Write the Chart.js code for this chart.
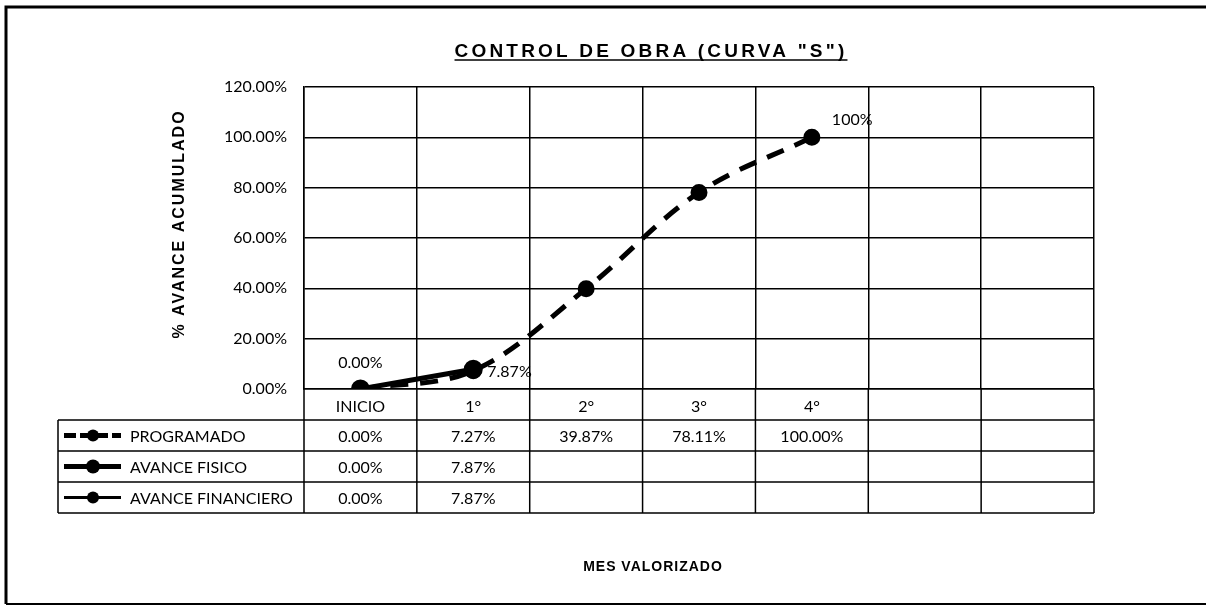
<!DOCTYPE html>
<html>
<head>
<meta charset="utf-8">
<script src="https://cdn.jsdelivr.net/npm/chart.js@4.4.1/dist/chart.umd.min.js"></script>
<style>
  html, body { margin: 0; padding: 0; background: #fff; }
  #wrap { width: 1206px; height: 606px; }
</style>
</head>
<body>
<div id="wrap"><canvas id="myChart" width="1206" height="606"></canvas></div>
<script>
'use strict';

// chart data
const months = ['INICIO', '1°', '2°', '3°', '4°', '', ''];
const programado = [0, 7.27, 39.87, 78.11, 100, null, null];
const avanceFisico = [0, 7.87, null, null, null, null, null];
const avanceFinanciero = [0, 7.87, null, null, null, null, null];
const yTicks = [0, 20, 40, 60, 80, 100, 120];

const chartTitle = 'CONTROL DE OBRA (CURVA "S")';
const yTitle = '% AVANCE ACUMULADO';
const xTitle = 'MES VALORIZADO';

const labelFont = '16px Lato';
const tableTop = 389;
const rowHeight = 31;
const tableLeft = 58;

function pct(v) {
    return v.toFixed(2) + '%';
}

// titles, frame, data table and point labels
const extras = {
    id: 'extras',
    afterDraw(chart) {
        const ctx = chart.ctx;
        const area = chart.chartArea;
        const xs = chart.scales.x;
        ctx.save();

        // outer frame
        ctx.strokeStyle = '#000';
        ctx.lineWidth = 3;
        ctx.beginPath();
        ctx.moveTo(1210, 7);
        ctx.lineTo(6, 7);
        ctx.lineTo(6, 604);
        ctx.stroke();
        ctx.lineWidth = 2;
        ctx.beginPath();
        ctx.moveTo(6, 604);
        ctx.lineTo(1210, 604);
        ctx.stroke();

        // main title, underlined
        ctx.fillStyle = '#000';
        ctx.font = 'bold 19px "Liberation Sans"';
        ctx.letterSpacing = '3.2px';
        ctx.textAlign = 'center';
        ctx.textBaseline = 'alphabetic';
        const tw = ctx.measureText(chartTitle).width;
        ctx.fillText(chartTitle, 651, 57);
        ctx.lineWidth = 1.5;
        ctx.beginPath();
        ctx.moveTo(651 - tw / 2, 60);
        ctx.lineTo(651 + tw / 2, 60);
        ctx.stroke();

        // axis titles
        ctx.font = 'bold 16px "Liberation Sans"';
        ctx.letterSpacing = '2px';
        ctx.save();
        ctx.translate(180, 224);
        ctx.rotate(-Math.PI / 2);
        ctx.textBaseline = 'middle';
        ctx.fillText(yTitle, 0, 0);
        ctx.restore();

        ctx.font = 'bold 14px "Liberation Sans"';
        ctx.letterSpacing = '1px';
        ctx.textBaseline = 'middle';
        ctx.fillText(xTitle, 653, 567);
        ctx.letterSpacing = '0px';

        // data table grid
        const bottom = tableTop + rowHeight * 4;
        const step = xs.getPixelForTick(1) - xs.getPixelForTick(0);
        ctx.lineWidth = 1.5;
        ctx.beginPath();
        for (let i = 0; i <= months.length; i++) {
            const x = i === months.length ? area.right : xs.getPixelForTick(i) - step / 2;
            ctx.moveTo(x, tableTop);
            ctx.lineTo(x, bottom);
        }
        for (let r = 1; r <= 4; r++) {
            ctx.moveTo(tableLeft, tableTop + rowHeight * r);
            ctx.lineTo(area.right, tableTop + rowHeight * r);
        }
        ctx.moveTo(tableLeft, tableTop + rowHeight);
        ctx.lineTo(tableLeft, bottom);
        ctx.stroke();

        // table rows: legend key + values
        chart.data.datasets.forEach((ds, r) => {
            const cy = tableTop + rowHeight * (r + 1.5);
            ctx.save();
            ctx.strokeStyle = '#000';
            ctx.lineWidth = ds.borderWidth;
            ctx.setLineDash(ds.borderDash ? [12, 4] : []);
            ctx.beginPath();
            ctx.moveTo(64, cy);
            ctx.lineTo(121, cy);
            ctx.stroke();
            ctx.setLineDash([]);
            ctx.beginPath();
            ctx.arc(93, cy, ds.pointRadius, 0, Math.PI * 2);
            ctx.fill();
            ctx.restore();

            ctx.font = labelFont;
            ctx.textAlign = 'left';
            ctx.textBaseline = 'middle';
            ctx.fillText(ds.label, 130, cy + 1);
            ctx.textAlign = 'center';
            ds.data.forEach((v, i) => {
                if (v !== null) {
                    ctx.fillText(pct(v), xs.getPixelForTick(i), cy + 1);
                }
            });
        });

        // point labels
        ctx.font = labelFont;
        ctx.textBaseline = 'middle';
        const fis = chart.getDatasetMeta(1).data;
        ctx.textAlign = 'center';
        ctx.fillText(pct(avanceFisico[0]), fis[0].x, fis[0].y - 26);
        ctx.textAlign = 'left';
        ctx.fillText(pct(avanceFisico[1]), fis[1].x + 14, fis[1].y + 3);
        const prog = chart.getDatasetMeta(0).data;
        ctx.fillText(Math.round(programado[4]) + '%', prog[4].x + 20, prog[4].y - 17);

        ctx.restore();
    }
};

new Chart(document.getElementById('myChart'), {
    type: 'line',
    data: {
        labels: months,
        datasets: [{
            label: 'PROGRAMADO',
            data: programado,
            borderColor: '#000',
            backgroundColor: '#000',
            borderWidth: 5,
            borderDash: [18, 12],
            pointRadius: 6,
            tension: 0.35,
            order: 3
        }, {
            label: 'AVANCE FISICO',
            data: avanceFisico,
            borderColor: '#000',
            backgroundColor: '#000',
            borderWidth: 5,
            pointRadius: 7,
            order: 2
        }, {
            label: 'AVANCE FINANCIERO',
            data: avanceFinanciero,
            borderColor: '#000',
            backgroundColor: '#000',
            borderWidth: 3,
            pointRadius: 6,
            order: 1
        }]
    },
    options: {
        responsive: false,
        animation: false,
        layout: { padding: { top: 87, right: 112, bottom: 0, left: 0 } },
        plugins: {
            legend: { display: false },
            tooltip: { enabled: false }
        },
        scales: {
            x: {
                offset: true,
                grid: { color: '#000', lineWidth: 1.5, offset: true, drawTicks: false },
                border: { color: '#000', width: 1.5 },
                ticks: { color: '#000', font: { family: 'Lato', size: 16 }, padding: 8, maxRotation: 0, autoSkip: false },
                afterFit(scale) { scale.height = 217; }
            },
            y: {
                min: 0,
                max: 120,
                afterBuildTicks(scale) { scale.ticks = yTicks.map(v => ({ value: v })); },
                grid: { color: '#000', lineWidth: 1.5, drawTicks: false },
                border: { color: '#000', width: 1.5 },
                ticks: { color: '#000', font: { family: 'Lato', size: 16 }, padding: 17, callback: v => pct(v) },
                afterFit(scale) { scale.width = 304; }
            }
        }
    },
    plugins: [extras]
});
</script>
</body>
</html>
